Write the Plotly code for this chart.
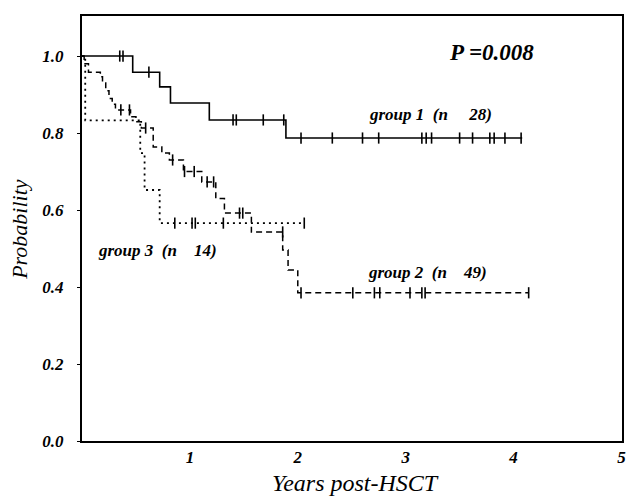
import plotly.graph_objects as go

# ---- data ----
g1_time = [0, 0.47, 0.72, 0.82, 1.18, 1.89, 4.08]
g1_surv = [1.0, 0.958, 0.920, 0.878, 0.834, 0.787, 0.787]
g1_cens_time = [0.35, 0.38, 0.62, 1.40, 1.43, 1.68, 1.87,
                2.03, 2.32, 2.60, 2.75, 3.15, 3.19, 3.24, 3.50, 3.62, 3.78, 3.82, 3.92, 4.07]
g1_cens_surv = [1.0, 1.0, 0.958, 0.834, 0.834, 0.834, 0.834,
                0.787, 0.787, 0.787, 0.787, 0.787, 0.787, 0.787, 0.787, 0.787, 0.787, 0.787, 0.787, 0.787]

g2_time = [0, 0.02, 0.06, 0.17, 0.19, 0.22, 0.25, 0.28, 0.31, 0.45, 0.50, 0.55, 0.66,
           0.74, 0.81, 0.94, 1.11, 1.24, 1.32, 1.57, 1.86, 1.91, 2.00, 4.14]
g2_surv = [1.0, 0.98, 0.958, 0.946, 0.93, 0.91, 0.89, 0.875, 0.86, 0.842, 0.829, 0.813, 0.764,
           0.748, 0.73, 0.70, 0.673, 0.63, 0.592, 0.543, 0.496, 0.444, 0.385, 0.385]
g2_cens_time = [0.36, 0.44, 0.59, 0.84, 0.95, 1.04, 1.16, 1.22, 1.46, 1.49, 1.86,
                2.03, 2.51, 2.71, 2.76, 3.04, 3.15, 3.18, 4.14]
g2_cens_surv = [0.86, 0.86, 0.813, 0.73, 0.70, 0.70, 0.673, 0.673, 0.592, 0.592, 0.543,
                0.385, 0.385, 0.385, 0.385, 0.385, 0.385, 0.385, 0.385]

g3_time = [0, 0.03, 0.54, 0.58, 0.72, 2.06]
g3_surv = [1.0, 0.833, 0.748, 0.652, 0.566, 0.566]
g3_cens_time = [0.86, 1.02, 1.05, 1.31, 2.06]
g3_cens_surv = [0.566, 0.566, 0.566, 0.566, 0.566]

x_ticks = [1, 2, 3, 4, 5]
y_ticks = [0.0, 0.2, 0.4, 0.6, 0.8, 1.0]

NB = "\u00a0"
group_labels = ["group 1" + NB * 2 + "(n" + NB * 5 + "28)",
                "group 2" + NB * 2 + "(n" + NB * 4 + "49)",
                "group 3" + NB * 2 + "(n" + NB * 4 + "14)"]
label_x = [3.23, 3.20, 0.70]
label_y = [0.847, 0.439, 0.496]
p_text = "P =0.008"

# ---- figure ----
fig = go.Figure()
SERIF = "Liberation Serif"

styles = [("solid", 1.6), ("6px,4px", 1.5), ("2px,4px", 1.8)]
curves = [(g1_time, g1_surv, g1_cens_time, g1_cens_surv),
          (g2_time, g2_surv, g2_cens_time, g2_cens_surv),
          (g3_time, g3_surv, g3_cens_time, g3_cens_surv)]
for (t, s, ct, cs), (dash, w) in zip(curves, styles):
    fig.add_trace(go.Scatter(x=t, y=s, mode="lines", line_shape="hv",
                             line=dict(color="black", width=w, dash=dash),
                             showlegend=False, hoverinfo="skip"))
    fig.add_trace(go.Scatter(x=ct, y=cs, mode="markers",
                             marker=dict(symbol="line-ns", size=8,
                                         line=dict(color="black", width=1.6)),
                             showlegend=False))

for txt, lx, ly in zip(group_labels, label_x, label_y):
    fig.add_annotation(x=lx, y=ly, text=txt, showarrow=False,
                       xanchor="center", yanchor="middle",
                       font=dict(family=SERIF, size=17, color="black",
                                 style="italic", weight="bold"))

fig.add_annotation(x=3.80, y=1.010, text=p_text, showarrow=False,
                   xanchor="center", yanchor="middle",
                   font=dict(family=SERIF, size=23, color="black",
                             style="italic", weight="bold"))

fig.add_annotation(xref="paper", yref="paper", x=-0.115, y=0.499,
                   xanchor="center", yanchor="middle",
                   text="Probability", textangle=-90, showarrow=False,
                   font=dict(family=SERIF, size=22, color="black", style="italic"))
fig.add_annotation(xref="paper", yref="paper", x=0.506, y=-0.098,
                   xanchor="center", yanchor="middle",
                   text="Years post-HSCT", showarrow=False,
                   font=dict(family=SERIF, size=24, color="black", style="italic"))

tickfont = dict(family=SERIF, size=17, color="black", style="italic", weight="bold")
fig.update_xaxes(range=[0, 5.005], tickvals=x_ticks, ticktext=[str(v) for v in x_ticks],
                 showgrid=False, zeroline=False, showline=True, mirror=True,
                 linecolor="black", linewidth=2, ticks="", 
                 tickfont=tickfont, automargin=False)
fig.update_yaxes(range=[0, 1.104], tickvals=y_ticks,
                 ticktext=[f"{v:.1f}" for v in y_ticks],
                 showgrid=False, zeroline=False, showline=True, mirror=True,
                 linecolor="black", linewidth=2, ticks="outside", ticklen=3,
                 tickcolor="black", tickfont=tickfont, ticklabelstandoff=10,
                 automargin=False)

fig.update_layout(width=629, height=496,
                  margin=dict(l=82, r=7, t=16, b=55, autoexpand=False),
                  paper_bgcolor="white", plot_bgcolor="white")

fig.write_html("out.html", config={"displayModeBar": False},
               post_script="document.body.style.margin='0';document.body.style.overflow='hidden';")
